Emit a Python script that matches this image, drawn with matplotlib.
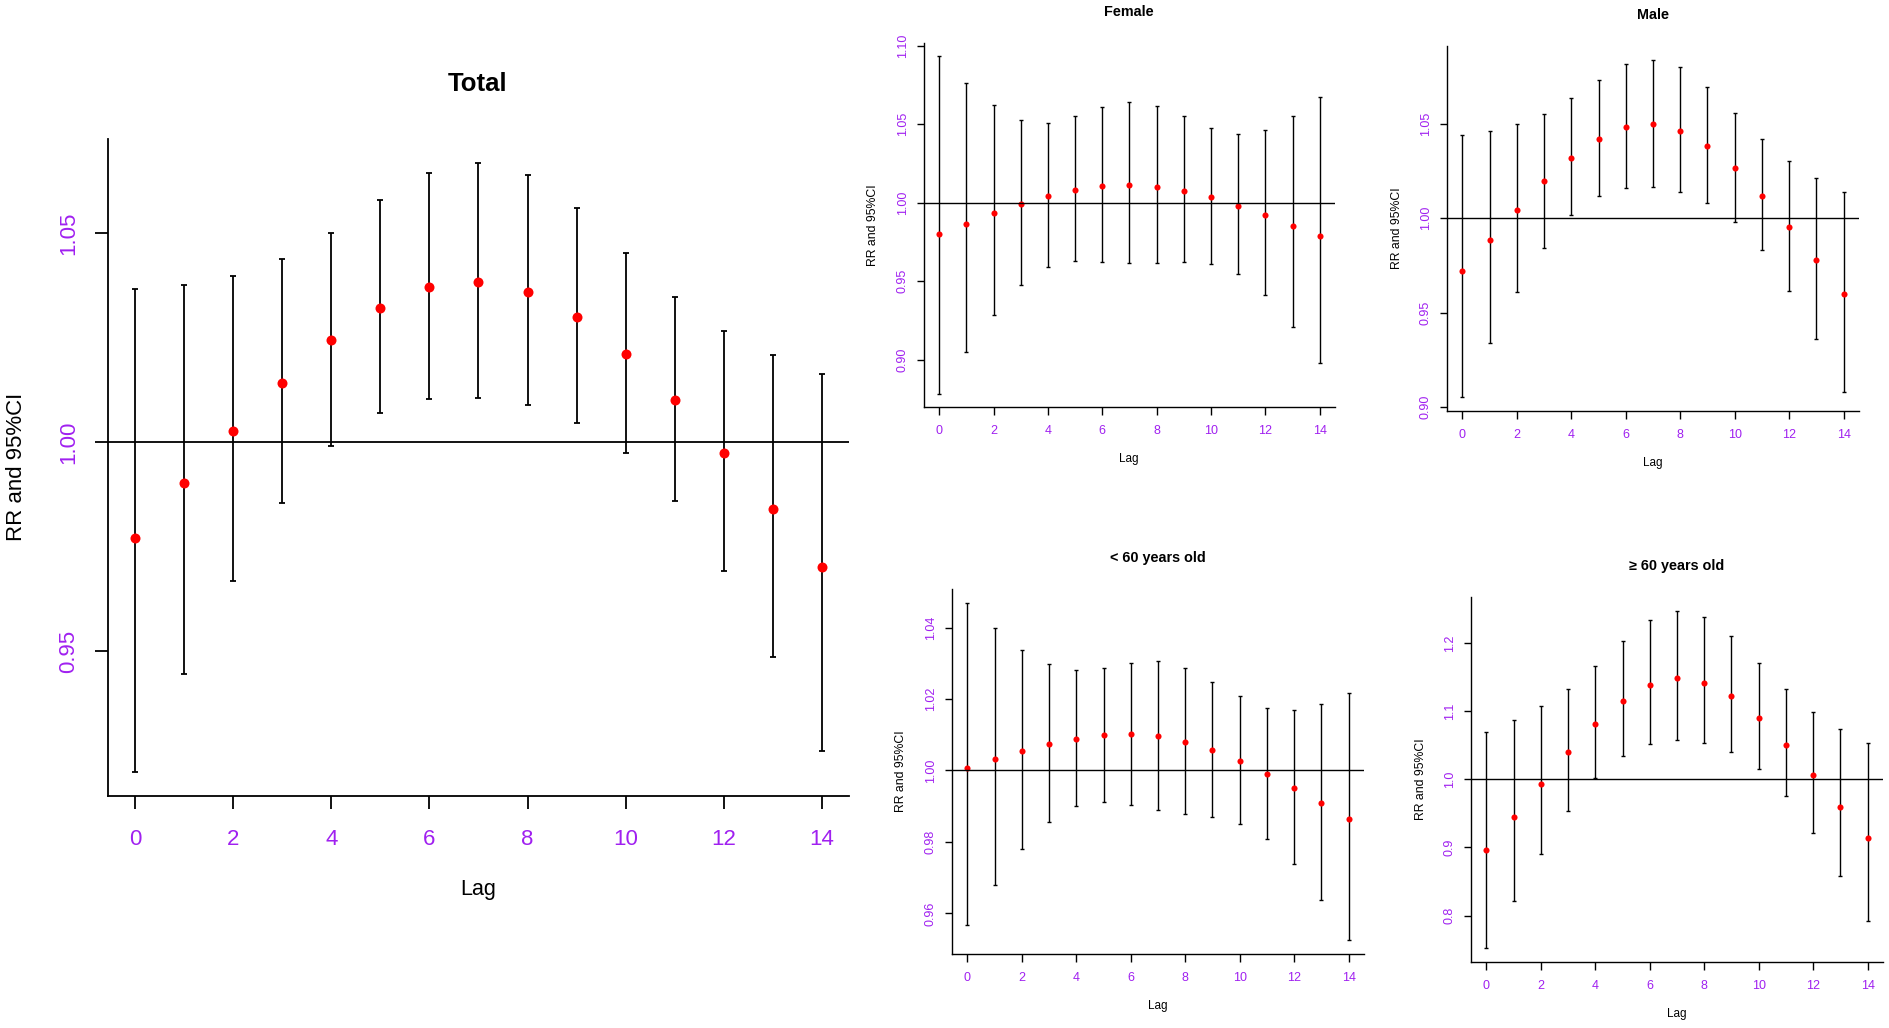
import matplotlib
matplotlib.use("Agg")
import matplotlib.pyplot as plt
import numpy as np

plt.rcParams['font.family'] = ['Liberation Sans', 'DejaVu Sans']

# ---------------------------------------------------------
# Datos (RR e IC 95% por lag)
# ---------------------------------------------------------
lags = np.arange(15)
x_ticks = [0, 2, 4, 6, 8, 10, 12, 14]

total_rr = [0.9771, 0.9902, 1.0026, 1.0143, 1.0244, 1.0321, 1.0371, 1.0384,
            1.0360, 1.0299, 1.0212, 1.0102, 0.9975, 0.9840, 0.9700]
total_lo = [0.9211, 0.9446, 0.9667, 0.9855, 0.9992, 1.0070, 1.0103, 1.0107,
            1.0088, 1.0047, 0.9975, 0.9860, 0.9691, 0.9486, 0.9260]
total_hi = [1.0368, 1.0377, 1.0399, 1.0438, 1.0500, 1.0580, 1.0646, 1.0668,
            1.0639, 1.0561, 1.0453, 1.0348, 1.0267, 1.0208, 1.0163]
total_yt = [0.95, 1.00, 1.05]
total_yl = ["0.95", "1.00", "1.05"]

female_rr = [0.9801, 0.9867, 0.9932, 0.9989, 1.0040, 1.0081, 1.0106, 1.0112,
             1.0102, 1.0076, 1.0034, 0.9981, 0.9922, 0.9854, 0.9788]
female_lo = [0.8784, 0.9049, 0.9286, 0.9477, 0.9591, 0.9629, 0.9625, 0.9614,
             0.9614, 0.9623, 0.9610, 0.9544, 0.9409, 0.9210, 0.8979]
female_hi = [1.0932, 1.0763, 1.0621, 1.0530, 1.0511, 1.0553, 1.0610, 1.0642,
             1.0619, 1.0553, 1.0479, 1.0439, 1.0464, 1.0551, 1.0674]
female_yt = [0.90, 0.95, 1.00, 1.05, 1.10]
female_yl = ["0.90", "0.95", "1.00", "1.05", "1.10"]

male_rr = [0.9721, 0.9885, 1.0046, 1.0196, 1.0322, 1.0420, 1.0482, 1.0498,
           1.0465, 1.0383, 1.0265, 1.0118, 0.9954, 0.9777, 0.9597]
male_lo = [0.9051, 0.9339, 0.9611, 0.9845, 1.0016, 1.0118, 1.0163, 1.0166,
           1.0138, 1.0080, 0.9982, 0.9830, 0.9617, 0.9360, 0.9081]
male_hi = [1.0440, 1.0465, 1.0502, 1.0555, 1.0636, 1.0733, 1.0816, 1.0841,
           1.0800, 1.0694, 1.0557, 1.0420, 1.0306, 1.0216, 1.0141]
male_yt = [0.90, 0.95, 1.00, 1.05]
male_yl = ["0.90", "0.95", "1.00", "1.05"]

young_rr = [1.0007, 1.0032, 1.0054, 1.0073, 1.0088, 1.0099, 1.0102, 1.0095,
            1.0080, 1.0057, 1.0026, 0.9991, 0.9950, 0.9908, 0.9863]
young_lo = [0.9567, 0.9679, 0.9779, 0.9856, 0.9900, 0.9912, 0.9904, 0.9890,
            0.9879, 0.9870, 0.9850, 0.9809, 0.9737, 0.9638, 0.9524]
young_hi = [1.0470, 1.0398, 1.0338, 1.0297, 1.0282, 1.0288, 1.0302, 1.0305,
            1.0286, 1.0247, 1.0207, 1.0176, 1.0169, 1.0185, 1.0216]
young_yt = [0.96, 0.98, 1.00, 1.02, 1.04]
young_yl = ["0.96", "0.98", "1.00", "1.02", "1.04"]

old_rr = [0.8966, 0.9444, 0.9927, 1.0395, 1.0815, 1.1151, 1.1390, 1.1483,
          1.1420, 1.1220, 1.0902, 1.0502, 1.0063, 0.9600, 0.9137]
old_lo = [0.7517, 0.8215, 0.8902, 0.9532, 1.0020, 1.0341, 1.0512, 1.0571,
          1.0537, 1.0395, 1.0146, 0.9751, 0.9215, 0.8580, 0.7927]
old_hi = [1.0693, 1.0868, 1.1078, 1.1332, 1.1663, 1.2034, 1.2341, 1.2478,
          1.2385, 1.2098, 1.1707, 1.1322, 1.0990, 1.0741, 1.0537]
old_yt = [0.8, 0.9, 1.0, 1.1, 1.2]
old_yl = ["0.8", "0.9", "1.0", "1.1", "1.2"]

# ---------------------------------------------------------
# Figura
# ---------------------------------------------------------
W, H = 1890, 1028
fig = plt.figure(figsize=(W / 100, H / 100), dpi=100)
PURPLE = "#A020F0"


def ejes(l, t, r, b):
    return fig.add_axes([l / W, 1 - b / H, (r - l) / W, (b - t) / H])


def texto(x, y, s, size, **kw):
    fig.text(x / W, 1 - y / H, s, fontsize=size, ha="center", va="center", **kw)


def panel(ax, rr, lo, hi, yt, yl, grande):
    rr = np.array(rr)
    lo = np.array(lo)
    hi = np.array(hi)
    if grande:
        lw, cap, ms, tl, fs, xpad, ypad = 1.3, 2.2, 7.2, 9.7, 16, 14.0, 18.5
    else:
        lw, cap, ms, tl, fs, xpad, ypad = 1.0, 1.2, 4.4, 5.4, 9, 7.8, 10.0
    ax.errorbar(lags, rr, yerr=[rr - lo, hi - rr], fmt="none", ecolor="black",
                elinewidth=lw, capsize=cap, capthick=lw)
    ax.plot(lags, rr, "o", color="red", markersize=ms, markeredgewidth=0)
    ax.axhline(1.0, color="black", linewidth=lw)
    ax.margins(x=0.04, y=0.04)
    ax.set_xticks(x_ticks)
    ax.set_yticks(yt, yl, rotation=90, va="center", ha="center")
    ax.spines[["top", "right"]].set_visible(False)
    for s in ["left", "bottom"]:
        ax.spines[s].set_linewidth(lw)
    ax.tick_params(axis="both", colors="black", labelcolor=PURPLE,
                   length=tl, width=lw, labelsize=fs)
    ax.tick_params(axis="x", pad=xpad)
    ax.tick_params(axis="y", pad=ypad)


# Total
ax = ejes(108, 139, 849, 796)
panel(ax, total_rr, total_lo, total_hi, total_yt, total_yl, True)
texto(478, 84, "Total", 18.5, fontweight="bold")
texto(478, 890, "Lag", 15.5)
texto(17, 467, "RR and 95%CI", 16, rotation=90)

# Female
ax = ejes(924, 43, 1335, 407)
panel(ax, female_rr, female_lo, female_hi, female_yt, female_yl, False)
texto(1129, 12, "Female", 10.4, fontweight="bold")
texto(1129, 459, "Lag", 8.5)
texto(873, 225, "RR and 95%CI", 8.8, rotation=90)

# Male
ax = ejes(1447, 46, 1859, 411)
panel(ax, male_rr, male_lo, male_hi, male_yt, male_yl, False)
texto(1653, 15, "Male", 10.4, fontweight="bold")
texto(1653, 463, "Lag", 8.5)
texto(1397, 228, "RR and 95%CI", 8.8, rotation=90)

# < 60
ax = ejes(952, 589, 1364, 954)
panel(ax, young_rr, young_lo, young_hi, young_yt, young_yl, False)
texto(1158, 558, "< 60 years old", 10.4, fontweight="bold")
texto(1158, 1006, "Lag", 8.5)
texto(901, 771, "RR and 95%CI", 8.8, rotation=90)

# >= 60
ax = ejes(1471, 597, 1883, 962)
panel(ax, old_rr, old_lo, old_hi, old_yt, old_yl, False)
texto(1677, 566, "≥ 60 years old", 10.4, fontweight="bold")
texto(1677, 1014, "Lag", 8.5)
texto(1421, 779, "RR and 95%CI", 8.8, rotation=90)

fig.savefig("out.png", dpi=100)
